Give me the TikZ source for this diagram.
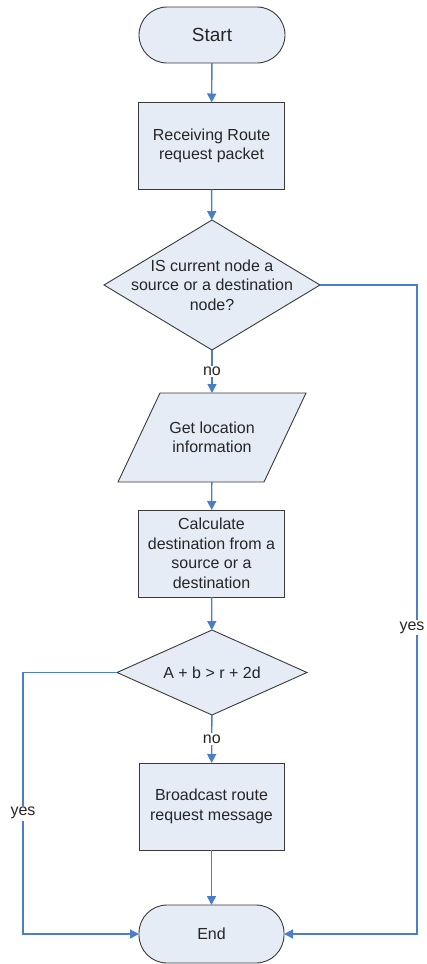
\documentclass[tikz,border=0pt]{standalone}
\usepackage{fontspec}
\setmainfont{Liberation Sans}
\usetikzlibrary{shapes.geometric,arrows.meta}
\definecolor{boxfill}{HTML}{E6ECF6}
\definecolor{boxline}{HTML}{3A3A3A}
\definecolor{flowblue}{HTML}{4A7EC8}
\begin{document}
\begin{tikzpicture}[x=1pt,y=-1pt,
  every node/.style={font=\fontsize{16}{19.5}\selectfont, text=black!85},
  terminal/.style={draw=boxline, fill=boxfill, line width=0.9pt, rounded corners=28pt,
    minimum width=146pt, minimum height=56pt, outer sep=0pt},
  process/.style={draw=boxline, fill=boxfill, line width=0.9pt, minimum width=146pt,
    minimum height=87pt, align=center, outer sep=0pt, inner sep=2pt},
  decision/.style={draw=boxline, fill=boxfill, line width=0.9pt, diamond, inner sep=0pt,
    outer sep=0pt},
  flow/.style={draw=flowblue, line width=1.4pt, -{Triangle[length=9pt,width=9pt]}},
  lab/.style={fill=white, inner sep=1.5pt}]
\useasboundingbox (0,0) rectangle (426,964);

% main column of steps
\node[terminal, font=\fontsize{19}{22}\selectfont] (start) at (212,35) {Start};
\node[process] (recv) at (211.5,146) {Receiving Route\\request packet};
\node[decision, minimum width=216pt, minimum height=130pt,
  label={[align=center]center:IS current node a\\source or a destination\\node?}] (isnode) at (212,285) {};
\node[minimum width=146pt, minimum height=89pt, align=center, outer sep=0pt, inner sep=0pt]
  (getloc) at (212,437.5) {Get location\\information};
\draw[draw=boxline, fill=boxfill, line width=0.9pt]
  ([xshift=21pt]getloc.north west) -- ([xshift=21pt]getloc.north east)
  -- ([xshift=-21pt]getloc.south east) -- ([xshift=-21pt]getloc.south west) -- cycle;
\node[align=center] at (getloc.center) {Get location\\information};
\node[process] (calc) at (211.5,553.5) {Calculate\\destination from a\\source or a\\destination};
\node[decision, minimum width=190pt, minimum height=85pt,
  label={center:A + b > r + 2d}] (cmp) at (212,672.5) {};
\node[process, minimum width=145pt] (bcast) at (211.5,806.5) {Broadcast route\\request message};
\node[terminal, minimum width=145pt, minimum height=58pt] (end) at (211.5,934) {End};

% connectors
\draw[flow] (start) -- (recv);
\draw[flow] (recv) -- (isnode);
\draw[flow] (isnode) -- node[lab] {no} (getloc);
\draw[flow] (getloc) -- (calc);
\draw[flow] (calc) -- (cmp);
\draw[flow] (cmp) -- node[lab] {no} (bcast);
\draw[flow] (bcast) -- (end);
\draw[flow] (cmp.west) -- (23,672.5) -- node[lab, pos=0.538] {yes} (23,934) -- (end.west);
\draw[flow] (isnode.east) -- (417,285) -- node[lab, pos=0.528, xshift=-5pt] {yes} (417,934) -- (end.east);
\end{tikzpicture}
\end{document}
